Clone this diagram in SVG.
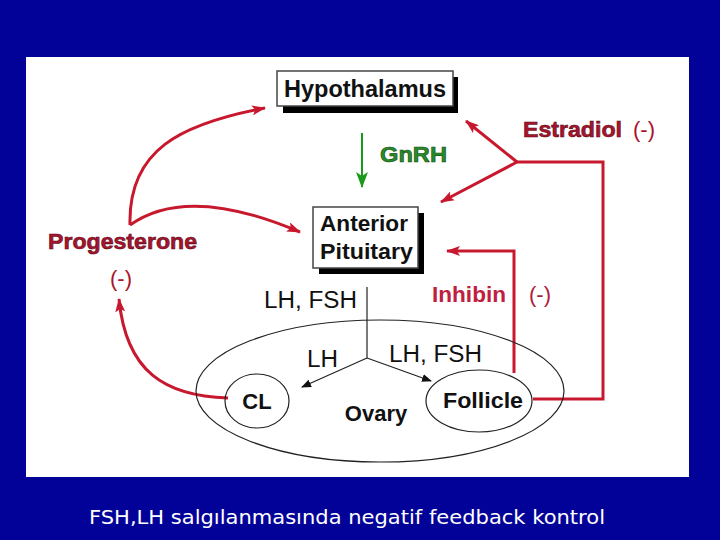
<svg xmlns="http://www.w3.org/2000/svg" width="720" height="540" viewBox="0 0 720 540">
<defs>
<style>
.t{font-family:"Liberation Sans",Arial,sans-serif;}
.b{font-weight:bold;}
.red{stroke:#c8182e;stroke-width:3;fill:none;}
.blk{stroke:#222;stroke-width:1.2;fill:none;}
</style>
<marker id="ar" viewBox="0 0 14 10" refX="13" refY="5" markerWidth="14" markerHeight="10" markerUnits="userSpaceOnUse" orient="auto">
<path d="M0,0 L14,5 L0,10 L3,5 Z" fill="#c8182e"/>
</marker>
<marker id="ag" viewBox="0 0 12 14" refX="6" refY="13" markerWidth="12" markerHeight="14" markerUnits="userSpaceOnUse" orient="auto-start-reverse">
<path d="M0,0 L6,14 L12,0 L6,4 Z" fill="#1a9a1a"/>
</marker>
<marker id="ak" viewBox="0 0 10 8" refX="9" refY="4" markerWidth="10" markerHeight="8" markerUnits="userSpaceOnUse" orient="auto">
<path d="M0,0 L10,4 L0,8 Z" fill="#111"/>
</marker>
</defs>
<rect width="720" height="540" fill="#020299"/>
<rect x="26" y="57" width="663" height="420" fill="#ffffff"/>

<g id="connectors">
<line x1="362" y1="133" x2="362" y2="187" stroke="#1a9a1a" stroke-width="2"/>
<path d="M362,176 L356,172 L362,188 L368,172 Z" fill="#1a9a1a"/>
<path class="red" d="M533,399 H603 V162 H517"/>
<line class="red" x1="517" y1="162" x2="466" y2="121" marker-end="url(#ar)"/>
<line class="red" x1="517" y1="162" x2="441" y2="202" marker-end="url(#ar)"/>
<path class="red" d="M514,373 V251 H447" marker-end="url(#ar)"/>
<path class="red" d="M228,398 C165,396 126,372 119,299" marker-end="url(#ar)"/>
<path class="red" d="M130,225 C128,150 180,124 265,108" marker-end="url(#ar)"/>
<path class="red" d="M130,225 C165,200 220,198 300,232" marker-end="url(#ar)"/>
<line x1="367" y1="287" x2="367" y2="358" stroke="#222" stroke-width="1.2"/>
<line x1="367" y1="358" x2="302" y2="387" stroke="#222" stroke-width="1.2" marker-end="url(#ak)"/>
<line x1="367" y1="358" x2="431" y2="381" stroke="#222" stroke-width="1.2" marker-end="url(#ak)"/>
</g>

<g id="ovary">
<ellipse class="blk" cx="380" cy="391" rx="184" ry="71"/>
<text class="t b" x="376" y="421" font-size="22" text-anchor="middle" fill="#111">Ovary</text>
</g>

<g id="hypothalamus">
<rect x="283" y="77" width="175" height="36" fill="#000"/>
<rect x="277" y="71" width="176" height="35" fill="#fff" stroke="#444" stroke-width="1.5"/>
<text class="t b" x="365" y="97" font-size="23" text-anchor="middle" fill="#111" textLength="162" lengthAdjust="spacingAndGlyphs">Hypothalamus</text>
</g>

<g id="gnrh">
<text class="t b" x="380" y="162" font-size="22" fill="#2a8a2a" stroke="#0f4f0f" stroke-width="0.6" textLength="67" lengthAdjust="spacingAndGlyphs">GnRH</text>
</g>

<g id="anterior-pituitary">
<rect x="319" y="213" width="105" height="61" fill="#000"/>
<rect x="313" y="207" width="105" height="61" fill="#fff" stroke="#444" stroke-width="1.5"/>
<text class="t b" x="320" y="231" font-size="22" fill="#111" textLength="88" lengthAdjust="spacingAndGlyphs">Anterior</text>
<text class="t b" x="320" y="259" font-size="22" fill="#111" textLength="93" lengthAdjust="spacingAndGlyphs">Pituitary</text>
</g>

<g id="estradiol">
<text class="t b" x="523" y="137" font-size="22" fill="#a8142c" stroke="#5a0a18" stroke-width="0.6" textLength="99" lengthAdjust="spacingAndGlyphs">Estradiol</text>
<text class="t" x="633" y="137" font-size="22" fill="#a8142c">(-)</text>
</g>

<g id="progesterone">
<text class="t b" x="48" y="249" font-size="22" fill="#a8142c" stroke="#5a0a18" stroke-width="0.6" textLength="149" lengthAdjust="spacingAndGlyphs">Progesterone</text>
<text class="t" x="110" y="286" font-size="22" fill="#a8142c">(-)</text>
</g>

<g id="inhibin">
<text class="t b" x="432" y="302" font-size="22" fill="#c02040" textLength="74" lengthAdjust="spacingAndGlyphs">Inhibin</text>
<text class="t" x="529" y="302" font-size="22" fill="#b01c3a">(-)</text>
</g>

<g id="lh-fsh-labels">
<text class="t" x="264" y="308" font-size="23" fill="#111" textLength="93" lengthAdjust="spacingAndGlyphs">LH, FSH</text>
<text class="t" x="307" y="367" font-size="23" fill="#111" textLength="31" lengthAdjust="spacingAndGlyphs">LH</text>
<text class="t" x="389" y="362" font-size="23" fill="#111" textLength="93" lengthAdjust="spacingAndGlyphs">LH, FSH</text>
</g>

<g id="cl">
<ellipse class="blk" cx="257" cy="401" rx="32" ry="27" fill="#fff"/>
<text class="t b" x="257" y="409" font-size="22" text-anchor="middle" fill="#111">CL</text>
</g>

<g id="follicle">
<ellipse class="blk" cx="479" cy="401" rx="53" ry="31"/>
<text class="t b" x="483" y="408" font-size="22" text-anchor="middle" fill="#111" textLength="80" lengthAdjust="spacingAndGlyphs">Follicle</text>
</g>

<text x="89" y="524" font-family="'DejaVu Sans',Verdana,sans-serif" font-size="20" fill="#ffffff" textLength="516" lengthAdjust="spacingAndGlyphs">FSH,LH salgılanmasında negatif feedback kontrol</text>
</svg>
